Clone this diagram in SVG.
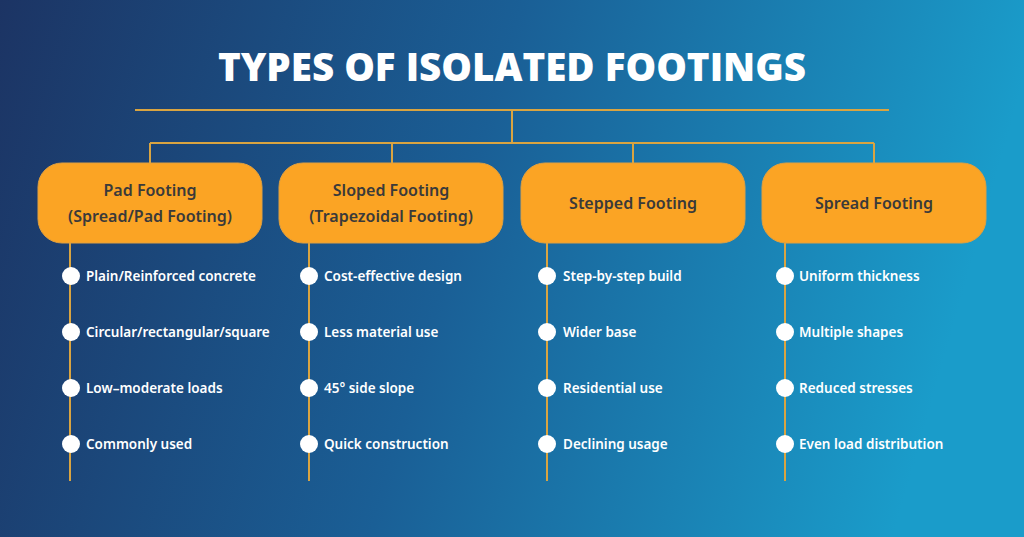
<svg xmlns="http://www.w3.org/2000/svg" width="1024" height="537" viewBox="0 0 1024 537">
<defs>
<linearGradient id="bg" x1="0" y1="0" x2="1" y2="0.15">
<stop offset="0" stop-color="#1c3464"/>
<stop offset="0.5" stop-color="#1a5f96"/>
<stop offset="1" stop-color="#1a9cca"/>
</linearGradient>
<style>
.ln{stroke:#d9a441;stroke-width:2;fill:none}
.box{fill:#fba424;stroke:#e0a040;stroke-width:1}
.bt{font-family:"Source Sans Pro","Noto Sans",sans-serif;font-weight:600;font-size:16px;fill:#3a3a3a;text-anchor:middle}
.it{font-family:"Source Sans Pro","Noto Sans",sans-serif;font-weight:600;font-size:13.5px;fill:#ffffff}
.dot{fill:#ffffff}
</style>
</defs>
<rect width="1024" height="537" fill="url(#bg)"/>
<text x="512" y="81" text-anchor="middle" font-family="'Open Sans','Noto Sans',sans-serif" font-weight="800" font-size="39" fill="#ffffff" textLength="588" lengthAdjust="spacingAndGlyphs">TYPES OF ISOLATED FOOTINGS</text>
<g id="connectors">
<path class="ln" d="M135 110H889M512 110V143M150 143H874M150 143V163M392 143V163M633 143V163M874 143V163"/>
<path class="ln" d="M70 243V481M309 243V481M547 243V481M785 243V481"/>
</g>
<g id="pad">
<rect class="box" x="38" y="163" width="224" height="80" rx="24"/>
<text class="bt" x="150" y="196">Pad Footing</text>
<text class="bt" x="150" y="222">(Spread/Pad Footing)</text>
<circle class="dot" cx="71" cy="276" r="9"/><text class="it" x="86" y="281">Plain/Reinforced concrete</text>
<circle class="dot" cx="71" cy="332" r="9"/><text class="it" x="86" y="337">Circular/rectangular/square</text>
<circle class="dot" cx="71" cy="388" r="9"/><text class="it" x="86" y="393">Low–moderate loads</text>
<circle class="dot" cx="71" cy="444" r="9"/><text class="it" x="86" y="449">Commonly used</text>
</g>
<g id="sloped">
<rect class="box" x="279" y="163" width="224" height="80" rx="24"/>
<text class="bt" x="391" y="196">Sloped Footing</text>
<text class="bt" x="391" y="222">(Trapezoidal Footing)</text>
<circle class="dot" cx="309" cy="276" r="9"/><text class="it" x="324" y="281">Cost-effective design</text>
<circle class="dot" cx="309" cy="332" r="9"/><text class="it" x="324" y="337">Less material use</text>
<circle class="dot" cx="309" cy="388" r="9"/><text class="it" x="324" y="393">45° side slope</text>
<circle class="dot" cx="309" cy="444" r="9"/><text class="it" x="324" y="449">Quick construction</text>
</g>
<g id="stepped">
<rect class="box" x="521" y="163" width="224" height="80" rx="24"/>
<text class="bt" x="633" y="209">Stepped Footing</text>
<circle class="dot" cx="547" cy="276" r="9"/><text class="it" x="563" y="281">Step-by-step build</text>
<circle class="dot" cx="547" cy="332" r="9"/><text class="it" x="563" y="337">Wider base</text>
<circle class="dot" cx="547" cy="388" r="9"/><text class="it" x="563" y="393">Residential use</text>
<circle class="dot" cx="547" cy="444" r="9"/><text class="it" x="563" y="449">Declining usage</text>
</g>
<g id="spread">
<rect class="box" x="762" y="163" width="224" height="80" rx="24"/>
<text class="bt" x="874" y="209">Spread Footing</text>
<circle class="dot" cx="785" cy="276" r="9"/><text class="it" x="799" y="281">Uniform thickness</text>
<circle class="dot" cx="785" cy="332" r="9"/><text class="it" x="799" y="337">Multiple shapes</text>
<circle class="dot" cx="785" cy="388" r="9"/><text class="it" x="799" y="393">Reduced stresses</text>
<circle class="dot" cx="785" cy="444" r="9"/><text class="it" x="799" y="449">Even load distribution</text>
</g>
</svg>
